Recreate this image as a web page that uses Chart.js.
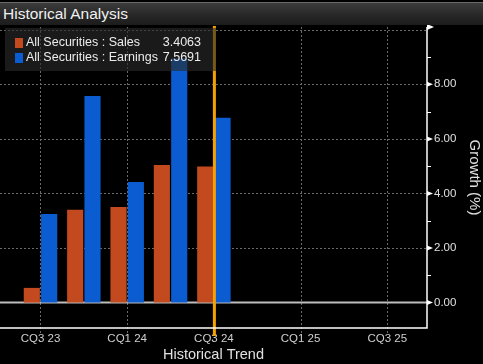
<!DOCTYPE html>
<html>
<head>
<meta charset="utf-8">
<script src="https://cdn.jsdelivr.net/npm/chart.js@4.4.1/dist/chart.umd.min.js"></script>
<style>
  html,body{margin:0;padding:0;background:#000;}
  #wrap{position:relative;width:483px;height:364px;overflow:hidden;background:#000;}
  #hdr{position:absolute;left:0;top:2px;width:483px;height:23px;
       background:linear-gradient(#3c3c3c,#262626 60%,#1c1c1c);
       border-top:1px solid #6a6a6a;box-sizing:border-box;
       font:15.5px "Liberation Sans",Arial,sans-serif;color:#f0f0f0;
       line-height:21px;padding-left:3px;}
  canvas{position:absolute;left:0;top:0;}
</style>
</head>
<body>
<div id="wrap">
  <canvas id="c" width="483" height="364"></canvas>
  <div id="hdr">Historical Analysis</div>
</div>
<script>
// ---- data ----
const quarterLabels = ["CQ3 23","CQ4 23","CQ1 24","CQ2 24","CQ3 24","CQ4 24","CQ1 25","CQ2 25","CQ3 25"];
const salesValues    = [0.54, 3.4063, 3.50, 5.04, 4.99];
const earningsValues = [3.25, 7.5691, 4.42, 8.95, 6.77];
const xTickIndices = [0, 2, 4, 6, 8];
const yTickValues = [0, 2, 4, 6, 8];
const yMinorValues = [1, 3, 5, 7, 9];
const seriesNames = ["All Securities : Sales", "All Securities : Earnings"];
const legendValues = ["3.4063", "7.5691"];
const markerIndex = 4;

const ORANGE = '#c24a1e', BLUE = '#0a5cd0';
const FONT = '"Liberation Sans", Arial, sans-serif';

const toPts = arr => arr.map((v, i) => ({x: i, y: v}));

const overlay = {
  id: 'overlay',
  beforeDatasetsDraw(chart) {
    const {ctx, chartArea: a, scales: {x, y}} = chart;
    ctx.save();
    ctx.strokeStyle = '#6a6a6a';
    ctx.lineWidth = 1;
    ctx.setLineDash([2, 2]);
    [2, 4, 6, 8, 10].forEach(v => {
      const py = Math.round(y.getPixelForValue(v)) + 0.5;
      ctx.beginPath(); ctx.moveTo(a.left, py); ctx.lineTo(a.right, py); ctx.stroke();
    });
    xTickIndices.forEach(i => {
      const px = Math.round(x.getPixelForValue(i)) + 0.5;
      ctx.beginPath(); ctx.moveTo(px, a.top); ctx.lineTo(px, a.bottom + 5); ctx.stroke();
    });
    ctx.setLineDash([]);
    // zero line
    const z = y.getPixelForValue(0);
    ctx.strokeStyle = '#bdbdbd';
    ctx.lineWidth = 2;
    ctx.beginPath(); ctx.moveTo(a.left, z); ctx.lineTo(a.right, z); ctx.stroke();
    ctx.restore();
  },
  afterDatasetsDraw(chart) {
    const {ctx, chartArea: a, scales: {x, y}} = chart;
    ctx.save();
    // marker line
    const mx = x.getPixelForValue(markerIndex) + 0.5;
    ctx.strokeStyle = '#f5a200';
    ctx.lineWidth = 3;
    ctx.beginPath(); ctx.moveTo(mx, a.top - 1); ctx.lineTo(mx, a.bottom + 8); ctx.stroke();
    // axes lines
    ctx.strokeStyle = '#ffffff';
    ctx.lineWidth = 1.5;
    ctx.beginPath(); ctx.moveTo(a.left, a.bottom); ctx.lineTo(a.right, a.bottom); ctx.lineTo(a.right, a.top); ctx.stroke();
    // flag
    ctx.fillStyle = '#ffffff';
    ctx.beginPath(); ctx.moveTo(a.right, a.top - 3); ctx.lineTo(a.right + 7, a.top); ctx.lineTo(a.right, a.top + 3); ctx.closePath(); ctx.fill();
    // major ticks
    yTickValues.forEach(v => {
      const py = y.getPixelForValue(v);
      ctx.beginPath(); ctx.moveTo(a.right, py - 2.5); ctx.lineTo(a.right + 6, py); ctx.lineTo(a.right, py + 2.5); ctx.closePath(); ctx.fill();
    });
    ctx.lineWidth = 1;
    yMinorValues.forEach(v => {
      const py = Math.round(y.getPixelForValue(v)) + 0.5;
      ctx.beginPath(); ctx.moveTo(a.right, py); ctx.lineTo(a.right + 4, py); ctx.stroke();
    });
    // legend box
    ctx.fillStyle = 'rgba(42,42,42,0.62)';
    ctx.fillRect(5, a.top + 1, 211, 43);
    const cols = [ORANGE, BLUE];
    ctx.font = '12.5px ' + FONT;
    ctx.textBaseline = 'middle';
    [0, 1].forEach(k => {
      const cy = a.top + 16 + k * 15;
      ctx.fillStyle = cols[k];
      ctx.fillRect(15, cy - 5, 8, 10);
      ctx.fillStyle = '#ececec';
      ctx.textAlign = 'left';
      ctx.fillText(seriesNames[k], 26, cy);
      ctx.textAlign = 'right';
      ctx.fillText(legendValues[k], 201, cy);
    });
    ctx.restore();
  }
};

new Chart(document.getElementById('c'), {
  type: 'bar',
  data: {
    datasets: [
      {label: seriesNames[0], data: toPts(salesValues), backgroundColor: ORANGE},
      {label: seriesNames[1], data: toPts(earningsValues), backgroundColor: BLUE}
    ]
  },
  options: {
    responsive: false,
    animation: false,
    events: [],
    layout: {padding: {top: 27, left: 0, right: 0, bottom: 0}},
    categoryPercentage: 0.8,
    barPercentage: 0.93,
    plugins: {legend: {display: false}, tooltip: {enabled: false}},
    scales: {
      x: {
        type: 'linear',
        offset: false,
        min: -0.934,
        max: 8.916,
        grid: {display: false, drawTicks: false},
        border: {display: false},
        afterBuildTicks: s => { s.ticks = xTickIndices.map(v => ({value: v})); },
        afterFit: s => { s.height = 36; },
        ticks: {
          color: '#d0d0d0', padding: 4, maxRotation: 0, autoSkip: false,
          font: {family: FONT, size: 11.5},
          callback: v => quarterLabels[v]
        },
        title: {display: true, text: 'Historical Trend', color: '#e0e0e0',
                font: {family: FONT, size: 14.5}, padding: {top: 0, bottom: 0}}
      },
      y: {
        position: 'right',
        min: -0.93,
        max: 10.1,
        grid: {display: false, drawTicks: false},
        border: {display: false},
        afterBuildTicks: s => { s.ticks = yTickValues.map(v => ({value: v})); },
        afterFit: s => { s.width = 56; },
        ticks: {
          color: '#e0e0e0', padding: 7,
          font: {family: FONT, size: 11.5},
          callback: v => Number(v).toFixed(2)
        },
        title: {display: true, text: 'Growth (%)', color: '#e0e0e0',
                font: {family: FONT, size: 15}, padding: {top: 0, bottom: 0}}
      }
    }
  },
  plugins: [overlay]
});
</script>
</body>
</html>
